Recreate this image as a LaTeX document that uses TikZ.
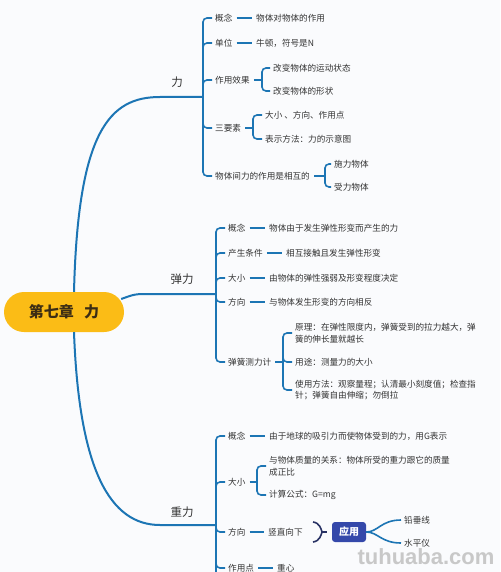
\documentclass[tikz,border=0pt]{standalone}
\usepackage{fontspec}
\setmainfont{Noto Sans CJK SC}
\newfontfamily\wmfont{Liberation Sans}
\definecolor{bl}{RGB}{28,117,180}
\definecolor{txt}{RGB}{51,51,51}
\definecolor{amber}{RGB}{251,188,22}
\definecolor{rootc}{RGB}{60,45,20}
\definecolor{appc}{RGB}{52,72,170}
\definecolor{navyc}{RGB}{40,50,100}
\definecolor{bgc}{RGB}{250,251,253}
\definecolor{wmc}{RGB}{200,200,200}
\begin{document}
\begin{tikzpicture}[x=1pt,y=-1pt,
  lab/.style={anchor=west,inner sep=0pt,text=txt,font=\fontsize{8.6}{11.7}\selectfont},
  mlab/.style={lab,align=left},
  ttl/.style={inner sep=0pt,text=txt,font=\fontsize{11.5}{14}\selectfont},
  mainln/.style={draw=bl,line width=2pt},
  conn/.style={draw=bl,line width=1.6pt,rounded corners=4pt},
  rootbox/.style={fill=amber,rounded corners=20pt,minimum width=120pt,minimum height=40pt,inner sep=0pt,text=rootc,font=\fontsize{15}{18}\selectfont\bfseries},
  appbox/.style={fill=appc,rounded corners=3pt,minimum width=34pt,minimum height=20pt,inner sep=0pt,text=white,font=\fontsize{10}{12}\selectfont\bfseries},
  navyln/.style={draw=navyc,line width=1.6pt},
  wm/.style={inner sep=0pt,text=wmc,font=\wmfont\bfseries\fontsize{22}{22}\selectfont}
]
\fill[bgc] (0,0) rectangle (500,572);
\useasboundingbox (0,0) rectangle (500,572);
\clip (0,0) rectangle (500,572);

% root
\node[rootbox] (root) at (64,312) {第七章\hspace{0.7em}力};

% junctions
\coordinate (b1) at (203,97);
\coordinate (b2) at (216,294);
\coordinate (b3) at (216,525);

% main branches
\draw[mainln] ([xshift=10pt]root.north) .. controls (78,130) and (110,97) .. (160,97) -- (b1);
\draw[mainln] ([xshift=-3pt,yshift=13pt]root.east) .. controls (135,294) .. (150,294) -- (b2);
\draw[mainln] ([xshift=10pt]root.south) .. controls (79,470) and (110,525) .. (160,525) -- (b3);

\node[ttl] (t1) at (177,82) {力};
\node[ttl] (t2) at (182,279) {弹力};
\node[ttl] (t3) at (182,512) {重力};

% ---- 力
\node[lab] (a1) at (215,18) {概念};
\node[lab] (a1t) at (256,18) {物体对物体的作用};
\node[lab] (a2) at (215,43) {单位};
\node[lab] (a2t) at (256,43) {牛顿，符号是N};
\node[lab] (a3) at (215,80) {作用效果};
\node[lab] (a3a) at (273,68) {改变物体的运动状态};
\node[lab] (a3b) at (273,91) {改变物体的形状};
\node[lab] (a4) at (215,128) {三要素};
\node[lab] (a4a) at (265,115) {大小 、方向、作用点};
\node[lab] (a4b) at (265,139) {表示方法：力的示意图};
\node[lab] (a5) at (215,176) {物体间力的作用是相互的};
\node[lab] (a5a) at (334,164) {施力物体};
\node[lab] (a5b) at (334,187) {受力物体};

\foreach \c in {a1,a2,a3,a4,a5} \draw[conn] (b1) |- ([xshift=-3pt]\c.west);
\draw[conn] ([xshift=4pt]a1.east) -- ([xshift=-4pt]a1t.west);
\draw[conn] ([xshift=4pt]a2.east) -- ([xshift=-4pt]a2t.west);
\coordinate (k3) at (262,80);
\coordinate (k4) at (253,128);
\coordinate (k5) at (325,176);
\draw[conn] ([xshift=4pt]a3.east) -- (k3);
\draw[conn] ([xshift=4pt]a4.east) -- (k4);
\draw[conn] ([xshift=4pt]a5.east) -- (k5);
\foreach \c in {a3a,a3b} \draw[conn] (k3) |- ([xshift=-3pt]\c.west);
\foreach \c in {a4a,a4b} \draw[conn] (k4) |- ([xshift=-3pt]\c.west);
\foreach \c in {a5a,a5b} \draw[conn] (k5) |- ([xshift=-3pt]\c.west);

% ---- 弹力
\node[lab] (e1) at (228,228) {概念};
\node[lab] (e1t) at (269,228) {物体由于发生弹性形变而产生的力};
\node[lab] (e2) at (228,253) {产生条件};
\node[lab] (e2t) at (286,253) {相互接触且发生弹性形变};
\node[lab] (e3) at (228,278) {大小};
\node[lab] (e3t) at (269,278) {由物体的弹性强弱及形变程度决定};
\node[lab] (e4) at (228,302) {方向};
\node[lab] (e4t) at (269,302) {与物体发生形变的方向相反};
\node[lab] (e5) at (228,362) {弹簧测力计};
\node[mlab] (e5a) at (295,333) {原理：在弹性限度内，弹簧受到的拉力越大，弹\\簧的伸长量就越长};
\node[lab] (e5b) at (295,362) {用途：测量力的大小};
\node[mlab] (e5c) at (295,390) {使用方法：观察量程；认清最小刻度值；检查指\\针；弹簧自由伸缩；勿倒拉};

\foreach \c in {e1,e2,e3,e4,e5} \draw[conn] (b2) |- ([xshift=-3pt]\c.west);
\foreach \p/\q in {e1/e1t,e2/e2t,e3/e3t,e4/e4t} \draw[conn] ([xshift=4pt]\p.east) -- ([xshift=-4pt]\q.west);
\coordinate (k6) at (283,362);
\draw[conn] ([xshift=4pt]e5.east) -- (k6);
\foreach \c in {e5a,e5b,e5c} \draw[conn] (k6) |- ([xshift=-3pt]\c.west);

% ---- 重力
\node[lab] (g1) at (228,436) {概念};
\node[lab] (g1t) at (269,436) {由于地球的吸引力而使物体受到的力，用G表示};
\node[lab] (g2) at (228,482) {大小};
\node[mlab] (g2a) at (269,466) {与物体质量的关系：物体所受的重力跟它的质量\\成正比};
\node[lab] (g2b) at (269,495) {计算公式：G=mg};
\node[lab] (g3) at (228,532) {方向};
\node[lab] (g3t) at (268,532) {竖直向下};
\node[lab] (g4) at (228,568) {作用点};
\node[lab] (g4t) at (277,568) {重心};
\coordinate (g5) at (216,590);

\foreach \c in {g1,g2,g3,g4} \draw[conn] (b3) |- ([xshift=-3pt]\c.west);
\draw[conn] (b3) -- (g5);
\foreach \p/\q in {g1/g1t,g3/g3t,g4/g4t} \draw[conn] ([xshift=4pt]\p.east) -- ([xshift=-4pt]\q.west);
\coordinate (k7) at (257,482);
\draw[conn] ([xshift=4pt]g2.east) -- (k7);
\foreach \c in {g2a,g2b} \draw[conn] (k7) |- ([xshift=-3pt]\c.west);

% 应用
\node[appbox] (app) at (349,532) {应用};
\coordinate (nt) at (313,522);
\coordinate (nm) at (322,532);
\coordinate (nb) at (313,542);
\coordinate (ne) at (327,532);
\draw[navyln] (nt) .. controls (320,523) and (321,529) .. (nm) .. controls (321,535) and (320,541) .. (nb);
\draw[navyln] (nm) -- (ne);
\node[lab] (p1) at (404,520) {铅垂线};
\node[lab] (p2) at (404,543) {水平仪};
\draw[draw=bl,line width=1.6pt] (app.east) .. controls (378,532) and (381,520) .. ([xshift=-3pt]p1.west);
\draw[draw=bl,line width=1.6pt] (app.east) .. controls (378,532) and (381,543) .. ([xshift=-3pt]p2.west);

% watermark
\node[wm] (wmk) at (426,557) {tuhuaba.com};
\end{tikzpicture}
\end{document}
